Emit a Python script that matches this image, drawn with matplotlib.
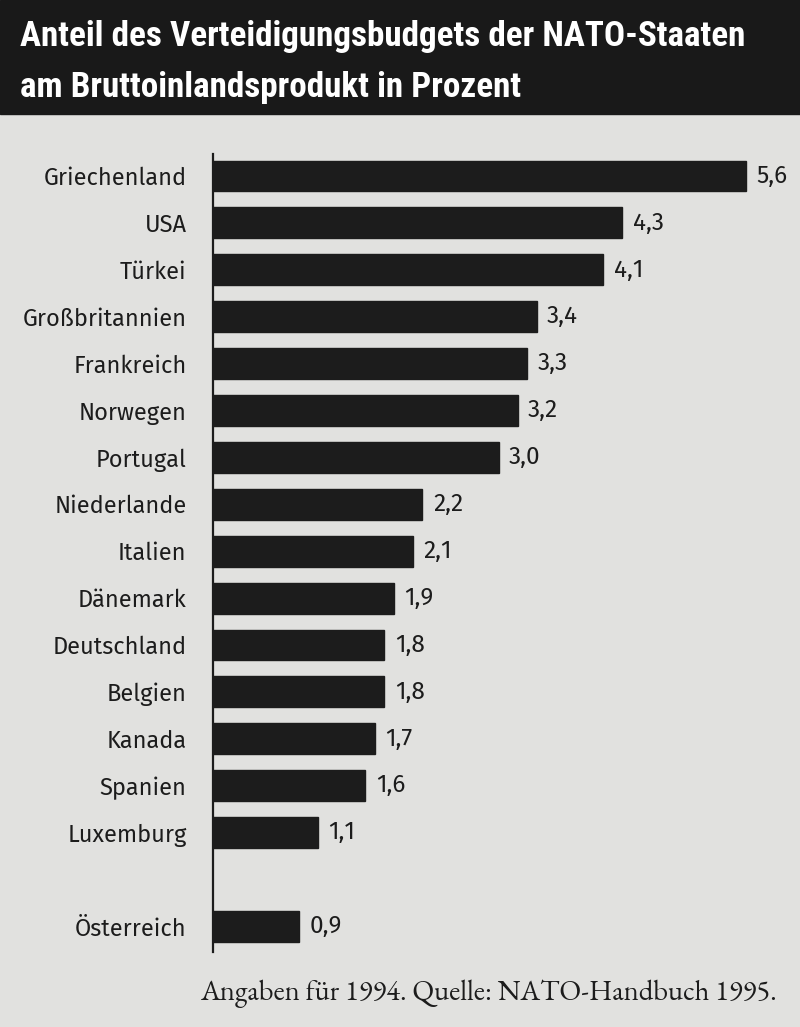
import matplotlib.pyplot as plt
from matplotlib.patches import Rectangle

countries = ["Griechenland", "USA", "Türkei", "Großbritannien", "Frankreich",
             "Norwegen", "Portugal", "Niederlande", "Italien", "Dänemark",
             "Deutschland", "Belgien", "Kanada", "Spanien", "Luxemburg",
             "Österreich"]
shares = [5.6, 4.3, 4.1, 3.4, 3.3, 3.2, 3.0, 2.2, 2.1, 1.9, 1.8, 1.8, 1.7, 1.6,
          1.1, 0.9]
# row slots (Österreich set apart by one empty row)
rows = list(range(15)) + [16]

W, H = 800, 1027
bg = "#e1e1df"
ink = "#1c1c1c"

title_font = ["Roboto Condensed", "DejaVu Sans"]
label_font = ["Fira Sans", "DejaVu Sans"]
note_font = ["EB Garamond", "Liberation Serif", "DejaVu Serif"]

fig = plt.figure(figsize=(W / 100, H / 100), dpi=100, facecolor=bg)

# dark title band
band_h = 114
fig.patches.append(Rectangle((0, 1 - band_h / H), 1, band_h / H,
                             transform=fig.transFigure, color="#191919", zorder=0))
fig.text(20 / W, 1 - 46 / H, "Anteil des Verteidigungsbudgets der NATO-Staaten",
         color="white", fontsize=25.3, fontweight="bold", family=title_font,
         va="baseline", ha="left")
fig.text(20 / W, 1 - 97 / H, "am Bruttoinlandsprodukt in Prozent",
         color="white", fontsize=25.3, fontweight="bold", family=title_font,
         va="baseline", ha="left")

# axes: left edge at x=213 px, ~95 px per percent
px_per_unit = 95.2
ax_left, ax_right = 213, 800
ax_top, ax_bot = 154, 952
ax = fig.add_axes([ax_left / W, 1 - ax_bot / H, (ax_right - ax_left) / W,
                   (ax_bot - ax_top) / H])
ax.set_facecolor("none")
ax.set_xlim(0, (ax_right - ax_left) / px_per_unit)
row_px = 46.9
ax.set_ylim((ax_bot - 176) / row_px, -(176 - ax_top) / row_px)

ax.barh(rows, shares, height=0.66, color=ink, edgecolor=ink)

for r, v in zip(rows, shares):
    ax.text(v + 0.11, r, f"{v:.1f}".replace(".", ","), va="center", ha="left",
            fontsize=17.5, color=ink, family=label_font)

ax.set_yticks(rows)
ax.set_yticklabels(countries, fontsize=17, color=ink, family=label_font)
ax.tick_params(axis="y", length=0, pad=19)
ax.set_xticks([])
for s in ["top", "right", "bottom"]:
    ax.spines[s].set_visible(False)
ax.spines["left"].set_color(ink)
ax.spines["left"].set_linewidth(1.6)

fig.text(777 / W, 1 - 1000 / H, "Angaben für 1994. Quelle: NATO-Handbuch 1995.",
         ha="right", va="baseline", fontsize=20.6, color=ink, family=note_font)

fig.savefig("out.png", dpi=100, facecolor=bg)
